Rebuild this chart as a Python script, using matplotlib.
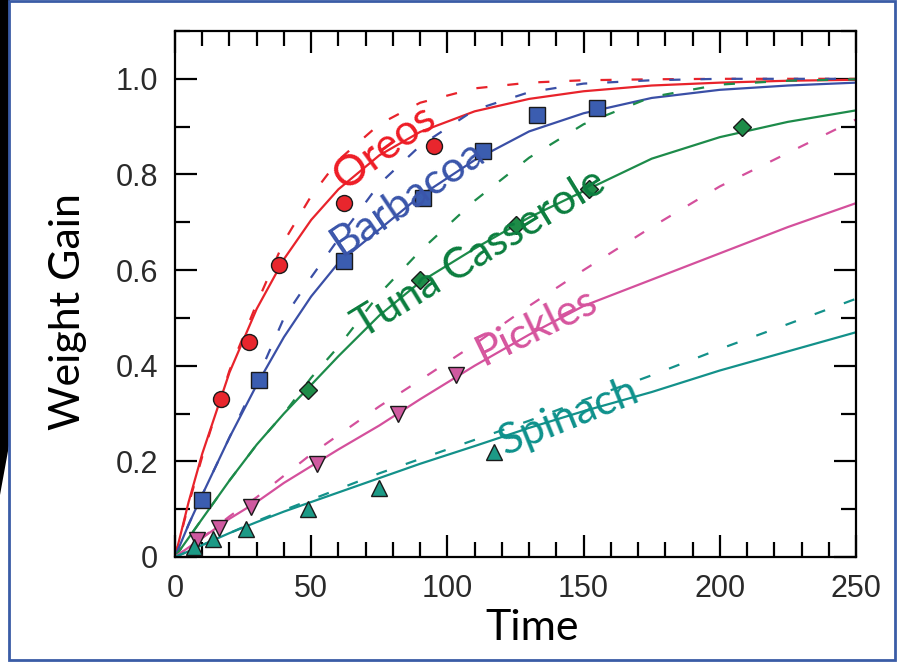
import matplotlib
matplotlib.use("Agg")
import matplotlib.pyplot as plt
from matplotlib.patches import Polygon, Rectangle
from matplotlib.ticker import MultipleLocator

# time grid the fitted curves were read at
t_fit = [0, 5, 10, 20, 30, 40, 50, 60, 75, 90, 110, 130, 150, 175, 200, 225, 250]

# solid / dashed fit curves
oreos_solid = [0, 0.115, 0.216, 0.386, 0.519, 0.623, 0.705, 0.769, 0.840, 0.889, 0.932, 0.958, 0.974, 0.986, 0.992, 0.996, 0.998]
oreos_dash = [0, 0.11, 0.21, 0.39, 0.53, 0.66, 0.755, 0.83, 0.905, 0.950, 0.980, 0.992, 0.997, 0.999, 1.0, 1.0, 1.0]
barb_solid = [0, 0.068, 0.13, 0.25, 0.36, 0.46, 0.545, 0.615, 0.685, 0.755, 0.83, 0.89, 0.928, 0.960, 0.977, 0.986, 0.992]
barb_dash = [0, 0.068, 0.13, 0.25, 0.37, 0.50, 0.585, 0.665, 0.78, 0.86, 0.935, 0.972, 0.99, 0.997, 1.0, 1.0, 1.0]
tuna_solid = [0, 0.04, 0.08, 0.16, 0.235, 0.30, 0.36, 0.42, 0.505, 0.575, 0.645, 0.71, 0.765, 0.833, 0.878, 0.910, 0.934]
tuna_dash = [0, 0.04, 0.08, 0.16, 0.235, 0.30, 0.375, 0.44, 0.55, 0.64, 0.745, 0.835, 0.905, 0.962, 0.988, 0.996, 0.999]
pick_solid = [0, 0.02, 0.04, 0.08, 0.115, 0.155, 0.19, 0.225, 0.275, 0.33, 0.40, 0.465, 0.525, 0.58, 0.635, 0.69, 0.74]
pick_dash = [0, 0.02, 0.04, 0.085, 0.125, 0.17, 0.215, 0.255, 0.315, 0.37, 0.445, 0.525, 0.60, 0.69, 0.775, 0.845, 0.915]
spin_solid = [0, 0.012, 0.025, 0.05, 0.073, 0.095, 0.115, 0.135, 0.165, 0.195, 0.232, 0.27, 0.305, 0.345, 0.39, 0.43, 0.47]
spin_dash = [0, 0.012, 0.025, 0.05, 0.075, 0.098, 0.12, 0.142, 0.175, 0.205, 0.245, 0.285, 0.328, 0.38, 0.435, 0.487, 0.54]

# measured points
oreos_t = [17, 27, 38, 62, 95]
oreos_v = [0.33, 0.45, 0.61, 0.74, 0.86]
barb_t = [10, 31, 62, 91, 113, 133, 155]
barb_v = [0.12, 0.37, 0.62, 0.75, 0.85, 0.925, 0.94]
tuna_t = [49, 90, 125, 152, 208]
tuna_v = [0.35, 0.58, 0.695, 0.77, 0.90]
pick_t = [8, 16, 28, 52, 82, 103]
pick_v = [0.035, 0.06, 0.105, 0.195, 0.30, 0.38]
spin_t = [7, 14, 26, 49, 75, 117]
spin_v = [0.02, 0.037, 0.058, 0.10, 0.145, 0.22]

names = ["Oreos", "Barbacoa", "Tuna Casserole", "Pickles", "Spinach"]
line_colors = ["#e8232b", "#3a4fa6", "#1d8b4a", "#d4509c", "#13918a"]
text_colors = ["#ee1c25", "#3a55aa", "#0b7d3e", "#d6559e", "#0e918c"]
face_colors = ["#e8262d", "#3b5db0", "#1e8c48", "#cf5aa0", "#1c9a86"]
markers = ["o", "s", "D", "v", "^"]
msizes = [11.5, 11.5, 9, 12, 12]

solids = [oreos_solid, barb_solid, tuna_solid, pick_solid, spin_solid]
dashes = [oreos_dash, barb_dash, tuna_dash, pick_dash, spin_dash]
pts_t = [oreos_t, barb_t, tuna_t, pick_t, spin_t]
pts_v = [oreos_v, barb_v, tuna_v, pick_v, spin_v]

# label anchors (t, value, angle)
label_pos = [(62.5, 0.765, 36), (61, 0.628, 34), (69, 0.455, 31.5), (113, 0.4, 26), (121, 0.212, 22)]

W, H = 897, 663
fig = plt.figure(figsize=(W / 100, H / 100), dpi=100)
fig.patch.set_facecolor("white")

# slide decoration: black strip on the left and blue frame
fig.patches.append(Polygon([(0, 1), (10 / W, 1), (10 / W, 1 - 440 / H), (0, 1 - 495 / H)],
                           closed=True, transform=fig.transFigure, facecolor="black", edgecolor="none"))
fig.patches.append(Rectangle((9 / W, 3 / H), 886 / W, 659 / H, transform=fig.transFigure,
                             facecolor="none", edgecolor="#3a5ca6", linewidth=2))

ax = fig.add_axes([175 / W, 1 - 557 / H, 681 / W, 526 / H])

for i in range(5):
    ax.plot(t_fit, solids[i], color=line_colors[i], lw=1.6, zorder=2)
    ax.plot(t_fit, dashes[i], color=line_colors[i], lw=1.6, dashes=(5, 9), zorder=2)
    ax.plot(pts_t[i], pts_v[i], linestyle="none", marker=markers[i], ms=msizes[i],
            markerfacecolor=face_colors[i], markeredgecolor="#1a1a1a", markeredgewidth=1.0, zorder=3)
    x0, y0, ang = label_pos[i]
    ax.text(x0, y0, names[i], color=text_colors[i], fontsize=31, family="Lato",
            rotation=ang, rotation_mode="anchor", ha="left", va="baseline", zorder=4)

ax.set_xlim(0, 250)
ax.set_ylim(0, 1.1)
ax.xaxis.set_major_locator(MultipleLocator(50))
ax.xaxis.set_minor_locator(MultipleLocator(10))
ax.yaxis.set_major_locator(MultipleLocator(0.2))
ax.yaxis.set_minor_locator(MultipleLocator(0.1))
ax.set_xticks([0, 50, 100, 150, 200, 250])
ax.set_xticklabels(["0", "50", "100", "150", "200", "250"])
ax.set_yticks([0, 0.2, 0.4, 0.6, 0.8, 1.0])
ax.set_yticklabels(["0", "0.2", "0.4", "0.6", "0.8", "1.0"])
ax.tick_params(which="both", direction="in", top=True, right=True, width=1.6, colors="black")
ax.tick_params(which="major", length=16, pad=12, labelsize=22)
ax.tick_params(which="minor", length=11)
for lab in ax.get_xticklabels() + ax.get_yticklabels():
    lab.set_family("Liberation Sans")
    lab.set_color("#2a2a2a")
for sp in ax.spines.values():
    sp.set_linewidth(1.6)

fig.text(68 / W, 1 - 312 / H, "Weight Gain", rotation=90, fontsize=31, family="Lato",
         ha="center", va="center")
fig.text(532 / W, 1 - 640 / H, "Time", fontsize=31, family="Lato", ha="center", va="baseline")

fig.savefig("out.png", dpi=100)
